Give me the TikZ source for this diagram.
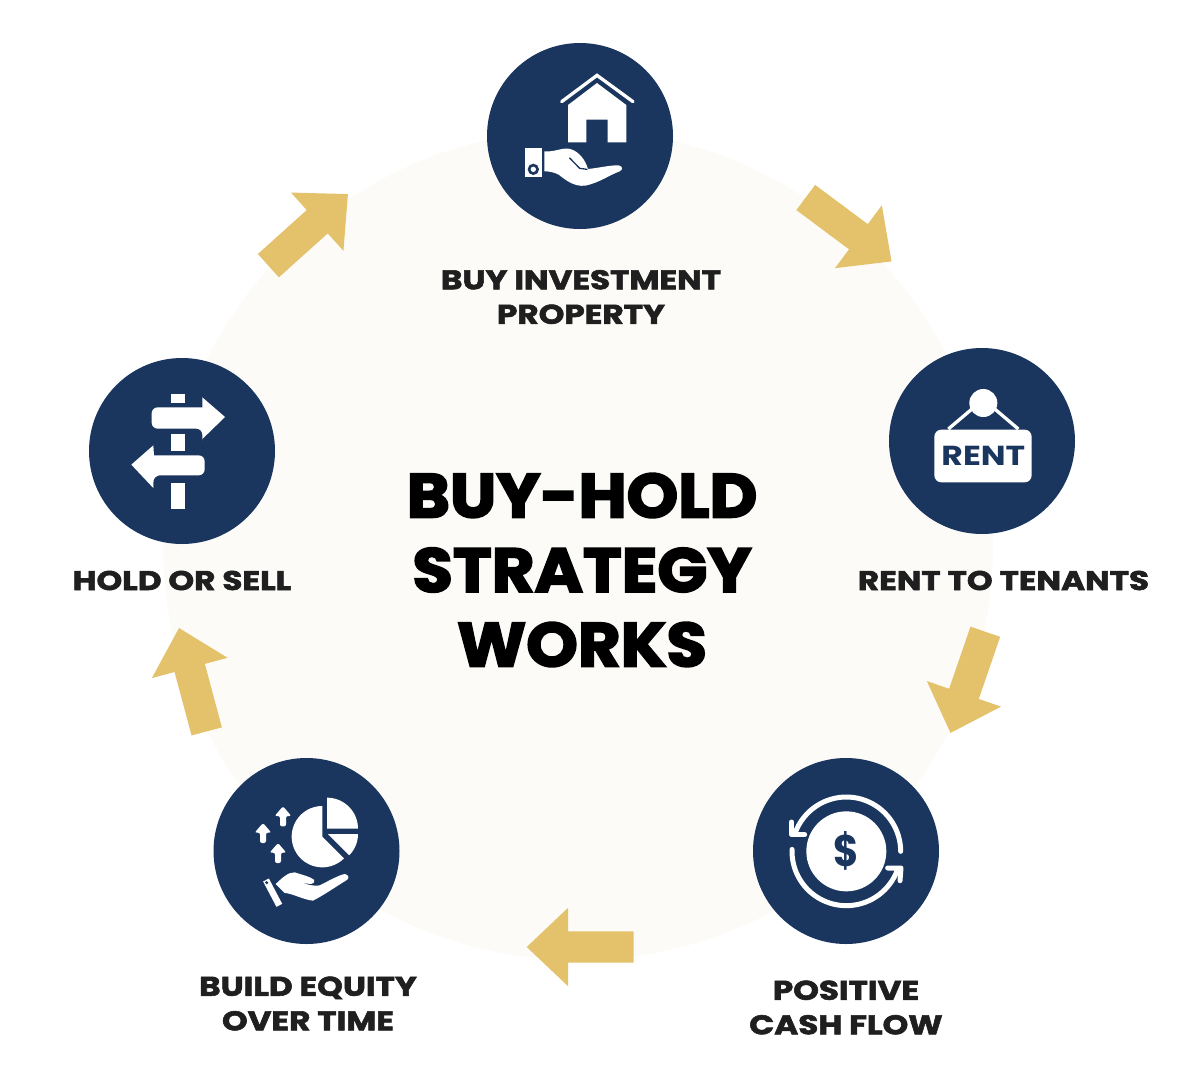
\documentclass[tikz,border=0pt]{standalone}
\usepackage{fontspec}
\setmainfont{Poppins}[BoldFeatures={FakeBold=2.2,FakeStretch=1.21}]
\newfontfamily\titlefont{Poppins}[BoldFeatures={FakeBold=3,FakeStretch=1.06}]
\newfontfamily\iconfont{Poppins}[BoldFeatures={FakeStretch=1.2}]
\usetikzlibrary{shapes.arrows}
\definecolor{navyblue}{HTML}{1A365F}
\definecolor{gold}{HTML}{E3C26B}
\definecolor{cream}{HTML}{FCFBF7}
\definecolor{inktext}{HTML}{1F1F1F}
\newcommand{\tinyup}[3]% stem x, tip y, stem end y
{(#1,#2) -- (#1+25,#2+29) -- (#1+9,#2+29) -- (#1+9,#3) -- (#1-9,#3) -- (#1-9,#2+29) -- (#1-25,#2+29) -- cycle
}
\tikzset{
	iconbase/.style={circle,fill=navyblue,minimum size=186pt,inner sep=0pt},
	steplabel/.style={align=center,text=inktext,font=\bfseries\fontsize{27}{34.5}\selectfont,inner sep=0pt},
	flowarrow/.style={shape=single arrow,fill=gold,minimum height=107pt,single arrow head extend=23.5pt,single arrow tip angle=87,inner xsep=0pt,inner ysep=15.5pt},
}

\begin{document}
\begin{tikzpicture}[x=1pt,y=-1pt]
	\useasboundingbox (0,0) rectangle (1200,1077);
	\node[circle,fill=cream,minimum size=830pt,inner sep=0pt] (backdisc) at (578,545){};
	\node[iconbase] (buy) at (580,136){};
	\node[iconbase] (rent) at (982,441){};
	\node[iconbase] (cash) at (846,851){};
	\node[iconbase] (equity) at (306.5,851){};
	\node[iconbase] (hold) at (182,451){};
	\node[flowarrow,rotate=-36.7] (arrowa) at (842,224.5){};%buy to rent
	\node[flowarrow,rotate=-109] (arrowb) at (970.6,674.5){};%rent to cash
	\node[flowarrow,rotate=180] (arrowc) at (588.5,947){};%cash to equity
	\node[flowarrow,rotate=105] (arrowd) at (195,687.7){};%equity to hold
	\node[flowarrow,rotate=42] (arrowe) at (302,235.4){};%hold to buy
	\node[steplabel] (buytext) at (581,297){BUY INVESTMENT\\PROPERTY};
	\node[steplabel] (renttext) at (1003.5,580.5){RENT TO TENANTS};
	\node[steplabel] (cashtext) at (846,1007.5){POSITIVE\\CASH FLOW};
	\node[steplabel] (equitytext) at (308,1003.5){BUILD EQUITY\\OVER TIME};
	\node[steplabel] (holdtext) at (182,580.5){HOLD OR SELL};
	\node[align=center,text=black,inner sep=0pt,font=\titlefont\bfseries\fontsize{62}{74.5}\selectfont] (title) at (582,570){BUY-HOLD\\STRATEGY\\WORKS};
	%house in hand
	\begin{scope}[shift={(487,43)},scale=1/3]
		\draw[white,line width=3.3pt,line cap=round,line join=miter] (224,176) -- (330,97) -- (438,176);
		\fill[white] (243,186) -- (330,120) -- (418,186) -- (418,298) -- (362,298) -- (362,230) -- (298,230) -- (298,298) -- (243,298) -- cycle;
		\fill[white] (115,315) rectangle (165,403);
		\fill[navyblue] (139,379) circle (17);
		\fill[white] (139,379) circle (8);
		\fill[white] (172,325) .. controls (205,328) and (225,312) .. (250,318) .. controls (275,325) and (295,350) .. (303,378) .. controls (335,375) and (370,366) .. (395,367) .. controls (408,370) and (408,380) .. (398,385) .. controls (370,395) and (335,420) .. (295,428) .. controls (260,432) and (235,410) .. (215,395) .. controls (200,387) and (185,385) .. (172,385) -- cycle;
		\draw[navyblue,line width=1.3pt,line cap=round] (248,345) -- (278,376) -- (300,379);
	\end{scope}
	%hanging sign
	\begin{scope}[shift={(889,348)},scale=1/3]
		\draw[white,line width=3.3pt] (178,243) -- (250,182);
		\draw[white,line width=3.3pt] (388,243) -- (316,182);
		\fill[white] (283,165) circle (42);
		\fill[white,rounded corners=7pt] (136,245) rectangle (428,403);
		\node[text=navyblue,inner sep=0pt,font=\iconfont\bfseries\fontsize{27.5}{30}\selectfont] (renticon) at (283,325){RENT};
	\end{scope}
	%coin with cycle
	\begin{scope}[shift={(753,758)},scale=1/3]
		\fill[white] (280,280) circle (120);
		\node[text=navyblue,inner sep=0pt,font=\iconfont\bfseries\fontsize{34}{40}\selectfont] (dollar) at (280,279){\scalebox{0.95}[1.3]{\$}};
		\draw[white,line width=5pt,line cap=round] plot[domain=0:-160,samples=40] ({280+163*cos(\x)},{280+163*sin(\x)});
		\draw[white,line width=5pt,line cap=round] plot[domain=182:20,samples=40] ({280+163*cos(\x)},{280+163*sin(\x)});
		\draw[white,line width=5pt,line cap=round,line join=round] (116,192) -- (116,230) -- (155,230);
		\draw[white,line width=5pt,line cap=round,line join=round] (404,330) -- (444,330) -- (441,368);
	\end{scope}
	%pie chart over hand
	\begin{scope}[shift={(213,758)},scale=1/3]
		\fill[white] (328,236) -- plot[domain=-90:-315,samples=40] ({328+92*cos(\x)},{236+92*sin(\x)}) -- cycle;
		\fill[white] (342,212) -- plot[domain=-90:0,samples=20] ({342+93*cos(\x)},{212+93*sin(\x)}) -- cycle;
		\fill[white] (345,228) -- plot[domain=0:45,samples=12] ({345+90*cos(\x)},{228+90*sin(\x)}) -- cycle;
		\fill[white,rounded corners=2pt] \tinyup{210}{145}{205};
		\fill[white,rounded corners=2pt] \tinyup{150}{195}{255};
		\fill[white,rounded corners=2pt] \tinyup{195}{255}{315};
		\draw[white,line width=6.5pt] (159,366) -- (199,442);
		\fill[navyblue] (161,374) circle (5);
		\fill[white] (188,378) .. controls (205,362) and (225,342) .. (245,343) .. controls (265,350) and (290,355) .. (303,365) .. controls (308,378) and (295,382) .. (262,372) .. controls (285,382) and (310,385) .. (320,382) .. controls (345,370) and (375,352) .. (395,348) .. controls (408,350) and (410,362) .. (400,367) .. controls (370,385) and (335,410) .. (300,428) .. controls (270,425) and (235,405) .. (215,405) -- cycle;
	\end{scope}
	%signpost
	\begin{scope}[shift={(89,358)},scale=1/3]
		\fill[white] (247,108) rectangle (288,135);
		\fill[white] (247,228) rectangle (288,280);
		\fill[white] (247,375) rectangle (288,452);
		\fill[white,rounded corners=6pt] (340,148) -- (188,148) -- (188,212) -- (340,212) -- (340,230) [sharp corners] -- (340,243) -- (408,177) -- (340,118) -- cycle;
		\fill[white,rounded corners=6pt] (195,292) -- (347,292) -- (347,352) -- (195,352) -- (193,370) [sharp corners] -- (193,390) -- (127,320) -- (193,262) -- cycle;
	\end{scope}
\end{tikzpicture}
\end{document}
